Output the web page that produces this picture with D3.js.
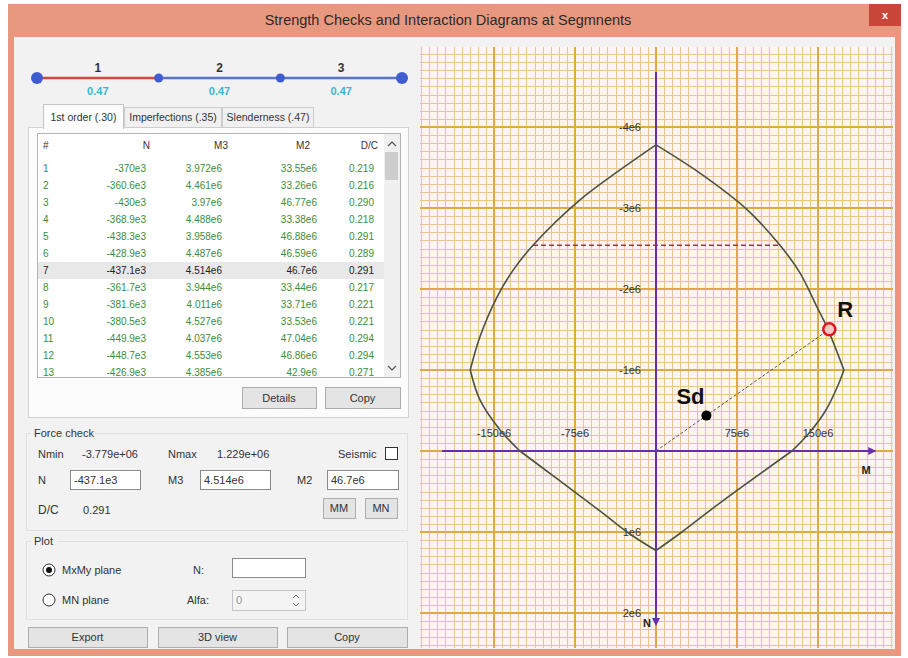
<!DOCTYPE html>
<html>
<head>
<meta charset="utf-8">
<script src="https://cdn.jsdelivr.net/npm/d3@7.9.0/dist/d3.min.js"></script>
<style>
  body { margin: 0; background: #fff; }
  svg { display: block; font-family: "Liberation Sans Narrow", "Liberation Sans", Arial, sans-serif; }
</style>
</head>
<body>
<svg id="win" width="908" height="658"></svg>
<script>
const segments = ['1', '2', '3'];
const segRatios = ['0.47', '0.47', '0.47'];
const tabs = ['1st order (.30)', 'Imperfections (.35)', 'Slenderness (.47)'];
const columns = ['#', 'N', 'M3', 'M2', 'D/C'];
const rowN  = ['-370e3', '-360.6e3', '-430e3', '-368.9e3', '-438.3e3', '-428.9e3', '-437.1e3', '-361.7e3', '-381.6e3', '-380.5e3', '-449.9e3', '-448.7e3', '-426.9e3'];
const rowM3 = ['3.972e6', '4.461e6', '3.97e6', '4.488e6', '3.958e6', '4.487e6', '4.514e6', '3.944e6', '4.011e6', '4.527e6', '4.037e6', '4.553e6', '4.385e6'];
const rowM2 = ['33.55e6', '33.26e6', '46.77e6', '33.38e6', '46.88e6', '46.59e6', '46.7e6', '33.44e6', '33.71e6', '33.53e6', '47.04e6', '46.86e6', '42.9e6'];
const rowDC = ['0.219', '0.216', '0.290', '0.218', '0.291', '0.289', '0.291', '0.217', '0.221', '0.221', '0.294', '0.294', '0.271'];
const selectedRow = 6;

const nMin = '-3.779e+06', nMax = '1.229e+06';

// interaction curve, M in 1e6, N in 1e6 (compression negative, drawn upwards)
const curveM = [0, 40.7, 84.3, 114.8, 133.3, 149, 158.3, 174, 168.5, 157.4, 142.6, 125.9, 59.3, 24, 0,
  -26.9, -51.9, -88.9, -126, -144.4, -163, -172, -163, -147.2, -132.4, -113.9, -70.4, -33.3];
const curveN = [-3.779, -3.43, -2.98, -2.54, -2.20, -1.78, -1.53, -1.0, -0.81, -0.506, -0.235, 0, 0.64, 1.0, 1.229,
  1.0, 0.74, 0.37, 0, -0.26, -0.63, -1.0, -1.41, -1.90, -2.23, -2.54, -3.10, -3.47];
// indices where the curve has a corner
const corners = [0, 7, 11, 14, 18, 21, 28];
const dashLevelN = -2.54;
const dashLevelM = [-113.9, 114.8];
const sdM = 46.7, sdN = -0.4371, sdDC = 0.291;

const xTicks = [-150, -75, 75, 150];
const xTickLabels = ['-150e6', '-75e6', '75e6', '150e6'];
const yTicks = [-4, -3, -2, -1, 1, 2];
const yTickLabels = ['-4e6', '-3e6', '-2e6', '-1e6', '1e6', '2e6'];

const svg = d3.select('#win');

// ---- window frame ----
svg.append('rect').attr('x', 8).attr('y', 4).attr('width', 893).attr('height', 652).attr('fill', '#e99880');
svg.append('rect').attr('x', 14).attr('y', 37).attr('width', 881).attr('height', 612).attr('fill', '#f2f2f2');
svg.append('text').attr('x', 448).attr('y', 25).attr('text-anchor', 'middle')
  .attr('font-size', 14.5).attr('fill', '#2a2a2a').text('Strength Checks and Interaction Diagrams at Segmnents');
svg.append('rect').attr('x', 869).attr('y', 4).attr('width', 32).attr('height', 22).attr('fill', '#c9463b');
svg.append('text').attr('x', 885).attr('y', 19).attr('text-anchor', 'middle')
  .attr('font-size', 11).attr('font-weight', 'bold').attr('fill', '#fff').text('x');

const left = svg.append('g').attr('font-size', 11).attr('fill', '#333');

function button(x, y, w, h, label) {
  left.append('rect').attr('x', x + 0.5).attr('y', y + 0.5).attr('width', w).attr('height', h)
    .attr('fill', '#e4e4e4').attr('stroke', '#adadad');
  left.append('text').attr('x', x + w / 2).attr('y', y + h / 2 + 4).attr('text-anchor', 'middle').text(label);
}
function textbox(x, y, w, h, value, fill) {
  left.append('rect').attr('x', x + 0.5).attr('y', y + 0.5).attr('width', w).attr('height', h)
    .attr('fill', fill || '#fff').attr('stroke', '#8a8a8a');
  if (value) left.append('text').attr('x', x + 4).attr('y', y + h / 2 + 4).text(value);
}

// ---- segment slider ----
const segX = d3.scaleLinear().domain([0, segments.length]).range([37, 402]);
d3.range(segments.length).forEach(i => {
  left.append('line').attr('x1', segX(i)).attr('x2', segX(i + 1)).attr('y1', 78).attr('y2', 78)
    .attr('stroke', i === 0 ? '#d9473e' : '#5872d6').attr('stroke-width', 2.5);
});
d3.range(segments.length + 1).forEach(i => {
  const end = i === 0 || i === segments.length;
  left.append('circle').attr('cx', segX(i)).attr('cy', 78).attr('r', end ? 6 : 4.5).attr('fill', '#3d5dd0');
});
segments.forEach((s, i) => {
  left.append('text').attr('x', segX(i + 0.5)).attr('y', 72).attr('text-anchor', 'middle')
    .attr('font-weight', 'bold').attr('font-size', 12).attr('fill', '#333').text(s);
  left.append('text').attr('x', segX(i + 0.5)).attr('y', 95).attr('text-anchor', 'middle')
    .attr('font-weight', 'bold').attr('font-size', 11).attr('fill', '#3ab6d6').text(segRatios[i]);
});

// ---- tabs ----
left.append('rect').attr('x', 28.5).attr('y', 127.5).attr('width', 380).attr('height', 290)
  .attr('fill', '#fcfcfc').attr('stroke', '#d2d2d2');
const tabX = [43, 124, 222, 314];
tabs.forEach((t, i) => {
  const sel = i === 0;
  left.append('rect').attr('x', tabX[i] + 0.5).attr('y', sel ? 104.5 : 107.5)
    .attr('width', tabX[i + 1] - tabX[i] - 1).attr('height', sel ? 24 : 20)
    .attr('fill', sel ? '#fcfcfc' : '#f0f0f0').attr('stroke', sel ? '#c4c4c4' : '#cdcdcd');
  left.append('text').attr('x', (tabX[i] + tabX[i + 1]) / 2).attr('y', 121).attr('text-anchor', 'middle')
    .attr('font-size', 10.5).text(t);
});
left.append('line').attr('x1', 44).attr('x2', 123).attr('y1', 128).attr('y2', 128).attr('stroke', '#fcfcfc').attr('stroke-width', 2);

// ---- list view ----
left.append('rect').attr('x', 37.5).attr('y', 133.5).attr('width', 363).attr('height', 244)
  .attr('fill', '#fff').attr('stroke', '#b4b4b4');
left.append('clipPath').attr('id', 'listClip').append('rect')
  .attr('x', 38).attr('y', 134).attr('width', 346).attr('height', 243);
const list = left.append('g').attr('clip-path', 'url(#listClip)').attr('font-size', 10);
const headX = [43, 150, 228, 310, 378];
const valX = [43, 146, 222, 317, 374];
columns.forEach((c, i) => {
  list.append('text').attr('x', headX[i]).attr('y', 149)
    .attr('text-anchor', i === 0 ? 'start' : 'end').attr('fill', '#333').text(c);
});
const rowY = i => 168 + 17 * i;
list.append('rect').attr('x', 38).attr('y', rowY(selectedRow) - 8).attr('width', 346).attr('height', 17).attr('fill', '#e8e8e8');
rowN.forEach((n, i) => {
  const cells = [String(i + 1), n, rowM3[i], rowM2[i], rowDC[i]];
  cells.forEach((v, j) => {
    list.append('text').attr('x', valX[j]).attr('y', rowY(i) + 4)
      .attr('text-anchor', j === 0 ? 'start' : 'end')
      .attr('fill', i === selectedRow ? '#222' : '#3c8d3c').text(v);
  });
});
// scrollbar
left.append('rect').attr('x', 384).attr('y', 134).attr('width', 16).attr('height', 243).attr('fill', '#f0f0f0');
left.append('rect').attr('x', 385).attr('y', 152).attr('width', 13).attr('height', 28).attr('fill', '#cdcdcd');
left.append('path').attr('d', 'M388,146 L392,142 L396,146').attr('fill', 'none').attr('stroke', '#555').attr('stroke-width', 1.2);
left.append('path').attr('d', 'M388,366 L392,370 L396,366').attr('fill', 'none').attr('stroke', '#555').attr('stroke-width', 1.2);

button(242, 387, 74, 21, 'Details');
button(325, 387, 75, 21, 'Copy');

// ---- force check group ----
function group(x, y, w, h, label, labelW) {
  left.append('rect').attr('x', x + 0.5).attr('y', y + 0.5).attr('width', w).attr('height', h)
    .attr('fill', 'none').attr('stroke', '#e0e0e0');
  left.append('rect').attr('x', x + 5).attr('y', y - 6).attr('width', labelW).attr('height', 12).attr('fill', '#f2f2f2');
  left.append('text').attr('x', x + 8).attr('y', y + 4).text(label);
}
group(26, 433, 381, 97, 'Force check', 64);
left.append('text').attr('x', 38).attr('y', 458).text('Nmin');
left.append('text').attr('x', 82).attr('y', 458).text(nMin);
left.append('text').attr('x', 168).attr('y', 458).text('Nmax');
left.append('text').attr('x', 217).attr('y', 458).text(nMax);
left.append('text').attr('x', 338).attr('y', 458).text('Seismic');
left.append('rect').attr('x', 385.5).attr('y', 447.5).attr('width', 12).attr('height', 12).attr('fill', '#fff').attr('stroke', '#333');

left.append('text').attr('x', 38).attr('y', 484).text('N');
textbox(70, 470, 70, 19, rowN[selectedRow]);
left.append('text').attr('x', 168).attr('y', 484).text('M3');
textbox(200, 470, 70, 19, rowM3[selectedRow]);
left.append('text').attr('x', 297).attr('y', 484).text('M2');
textbox(327, 470, 71, 19, rowM2[selectedRow]);

left.append('text').attr('x', 38).attr('y', 514).attr('font-size', 12).text('D/C');
left.append('text').attr('x', 83).attr('y', 514).text(rowDC[selectedRow]);
button(323, 498, 32, 20, 'MM');
button(365, 498, 32, 20, 'MN');

// ---- plot group ----
group(26, 541, 381, 78, 'Plot', 26);
left.append('circle').attr('cx', 49).attr('cy', 570).attr('r', 6).attr('fill', '#fff').attr('stroke', '#333');
left.append('circle').attr('cx', 49).attr('cy', 570).attr('r', 3).attr('fill', '#111');
left.append('text').attr('x', 62).attr('y', 574).text('MxMy plane');
left.append('text').attr('x', 193).attr('y', 574).text('N:');
textbox(232, 558, 73, 19, '');
left.append('circle').attr('cx', 49).attr('cy', 600).attr('r', 6).attr('fill', '#fff').attr('stroke', '#333');
left.append('text').attr('x', 62).attr('y', 604).text('MN plane');
left.append('text').attr('x', 187).attr('y', 604).text('Alfa:');
left.append('rect').attr('x', 232.5).attr('y', 590.5).attr('width', 73).attr('height', 20).attr('fill', '#f4f4f4').attr('stroke', '#c4c4c4');
left.append('text').attr('x', 236).attr('y', 604).attr('fill', '#999').text('0');
left.append('path').attr('d', 'M293,598 L296,595 L299,598 M293,603 L296,606 L299,603').attr('fill', 'none').attr('stroke', '#666');

button(28, 627, 119, 20, 'Export');
button(158, 627, 119, 20, '3D view');
button(287, 627, 120, 20, 'Copy');

// ---- interaction diagram ----
const x = d3.scaleLinear().domain([-225, 225]).range([413, 899]);
const y = d3.scaleLinear().domain([-4, 2]).range([127, 613]);
const plotBox = { x: 420, y: 47, w: 473, h: 601 };

svg.append('clipPath').attr('id', 'plotClip').append('rect')
  .attr('x', plotBox.x).attr('y', plotBox.y).attr('width', plotBox.w).attr('height', plotBox.h);
const plot = svg.append('g').attr('clip-path', 'url(#plotClip)');
plot.append('rect').attr('x', plotBox.x).attr('y', plotBox.y).attr('width', plotBox.w).attr('height', plotBox.h).attr('fill', '#fdf4ef');

const minorM = d3.range(-225, 225.1, 7.5);
const minorN = d3.range(-5, 2.51, 0.1);
plot.append('g').selectAll('line').data(minorM).join('line')
  .attr('x1', d => Math.round(x(d)) + 0.5).attr('x2', d => Math.round(x(d)) + 0.5)
  .attr('y1', plotBox.y).attr('y2', plotBox.y + plotBox.h)
  .attr('stroke', '#e9c690').attr('stroke-width', 1);
plot.append('g').selectAll('line').data(minorN).join('line')
  .attr('y1', d => Math.round(y(d)) + 0.5).attr('y2', d => Math.round(y(d)) + 0.5)
  .attr('x1', plotBox.x).attr('x2', plotBox.x + plotBox.w)
  .attr('stroke', '#e9c690').attr('stroke-width', 1);
const majorM = d3.range(-225, 226, 75);
const majorN = d3.range(-5, 3, 1);
plot.append('g').selectAll('line').data(majorM).join('line')
  .attr('x1', d => x(d)).attr('x2', d => x(d))
  .attr('y1', plotBox.y).attr('y2', plotBox.y + plotBox.h)
  .attr('stroke', '#dfaa40').attr('stroke-width', 2);
plot.append('g').selectAll('line').data(majorN).join('line')
  .attr('y1', d => y(d)).attr('y2', d => y(d))
  .attr('x1', plotBox.x).attr('x2', plotBox.x + plotBox.w)
  .attr('stroke', '#dfaa40').attr('stroke-width', 2);

// axes
const axisColor = '#6a2ea6';
plot.append('line').attr('x1', 442).attr('x2', x(203)).attr('y1', y(0)).attr('y2', y(0))
  .attr('stroke', axisColor).attr('stroke-width', 2);
plot.append('path').attr('d', `M${x(203) - 7},${y(0) - 4} L${x(203) + 1},${y(0)} L${x(203) - 7},${y(0) + 4} Z`).attr('fill', axisColor);
plot.append('line').attr('x1', x(0)).attr('x2', x(0)).attr('y1', 72).attr('y2', 624)
  .attr('stroke', axisColor).attr('stroke-width', 2);
plot.append('path').attr('d', `M${x(0) - 4},618 L${x(0)},626 L${x(0) + 4},618 Z`).attr('fill', axisColor);

// tick labels
plot.append('g').selectAll('text').data(xTicks).join('text')
  .attr('x', d => x(d)).attr('y', y(0) - 14).attr('text-anchor', 'middle')
  .attr('font-size', 11).attr('fill', '#333').text((d, i) => xTickLabels[i]);
plot.append('g').selectAll('text').data(yTicks).join('text')
  .attr('x', x(0) - 15).attr('y', d => y(d) + 4).attr('text-anchor', 'end')
  .attr('font-size', 11).attr('fill', '#333').text((d, i) => yTickLabels[i]);
plot.append('text').attr('x', 866).attr('y', 474).attr('text-anchor', 'middle')
  .attr('font-size', 11).attr('font-weight', 'bold').attr('fill', '#222').text('M');
plot.append('text').attr('x', x(0) - 9).attr('y', 627).attr('text-anchor', 'middle')
  .attr('font-size', 11).attr('font-weight', 'bold').attr('fill', '#222').text('N');

// capacity curve, smooth between corners
const pts = curveM.map((m, i) => [m, curveN[i]]);
pts.push(pts[0]);
const smooth = d3.line().x(d => x(d[0])).y(d => y(d[1])).curve(d3.curveCatmullRom.alpha(0.5));
d3.range(corners.length - 1).forEach(k => {
  plot.append('path').datum(pts.slice(corners[k], corners[k + 1] + 1))
    .attr('d', smooth)
    .attr('fill', 'none').attr('stroke', '#4b5342').attr('stroke-width', 1.6);
});

// N level line
plot.append('line').attr('x1', x(dashLevelM[0])).attr('x2', x(dashLevelM[1]))
  .attr('y1', y(dashLevelN)).attr('y2', y(dashLevelN))
  .attr('stroke', '#a8323f').attr('stroke-width', 1.6).attr('stroke-dasharray', '5,3');

// demand and resistance
const rM = sdM / sdDC, rN = sdN / sdDC;
plot.append('line').attr('x1', x(0)).attr('y1', y(0)).attr('x2', x(rM)).attr('y2', y(rN))
  .attr('stroke', '#555').attr('stroke-width', 1).attr('stroke-dasharray', '3,2');
plot.append('circle').attr('cx', x(sdM)).attr('cy', y(sdN)).attr('r', 5).attr('fill', '#000');
plot.append('text').attr('x', x(sdM) - 30).attr('y', y(sdN) - 12)
  .attr('font-size', 22).attr('font-weight', 'bold').attr('font-family', 'Liberation Sans, Arial').attr('fill', '#111').text('Sd');
plot.append('circle').attr('cx', x(rM)).attr('cy', y(rN)).attr('r', 6)
  .attr('fill', '#f6c9c9').attr('stroke', '#e0141e').attr('stroke-width', 2.5);
plot.append('text').attr('x', x(rM) + 8).attr('y', y(rN) - 12)
  .attr('font-size', 22).attr('font-weight', 'bold').attr('font-family', 'Liberation Sans, Arial').attr('fill', '#111').text('R');
</script>
</body>
</html>
